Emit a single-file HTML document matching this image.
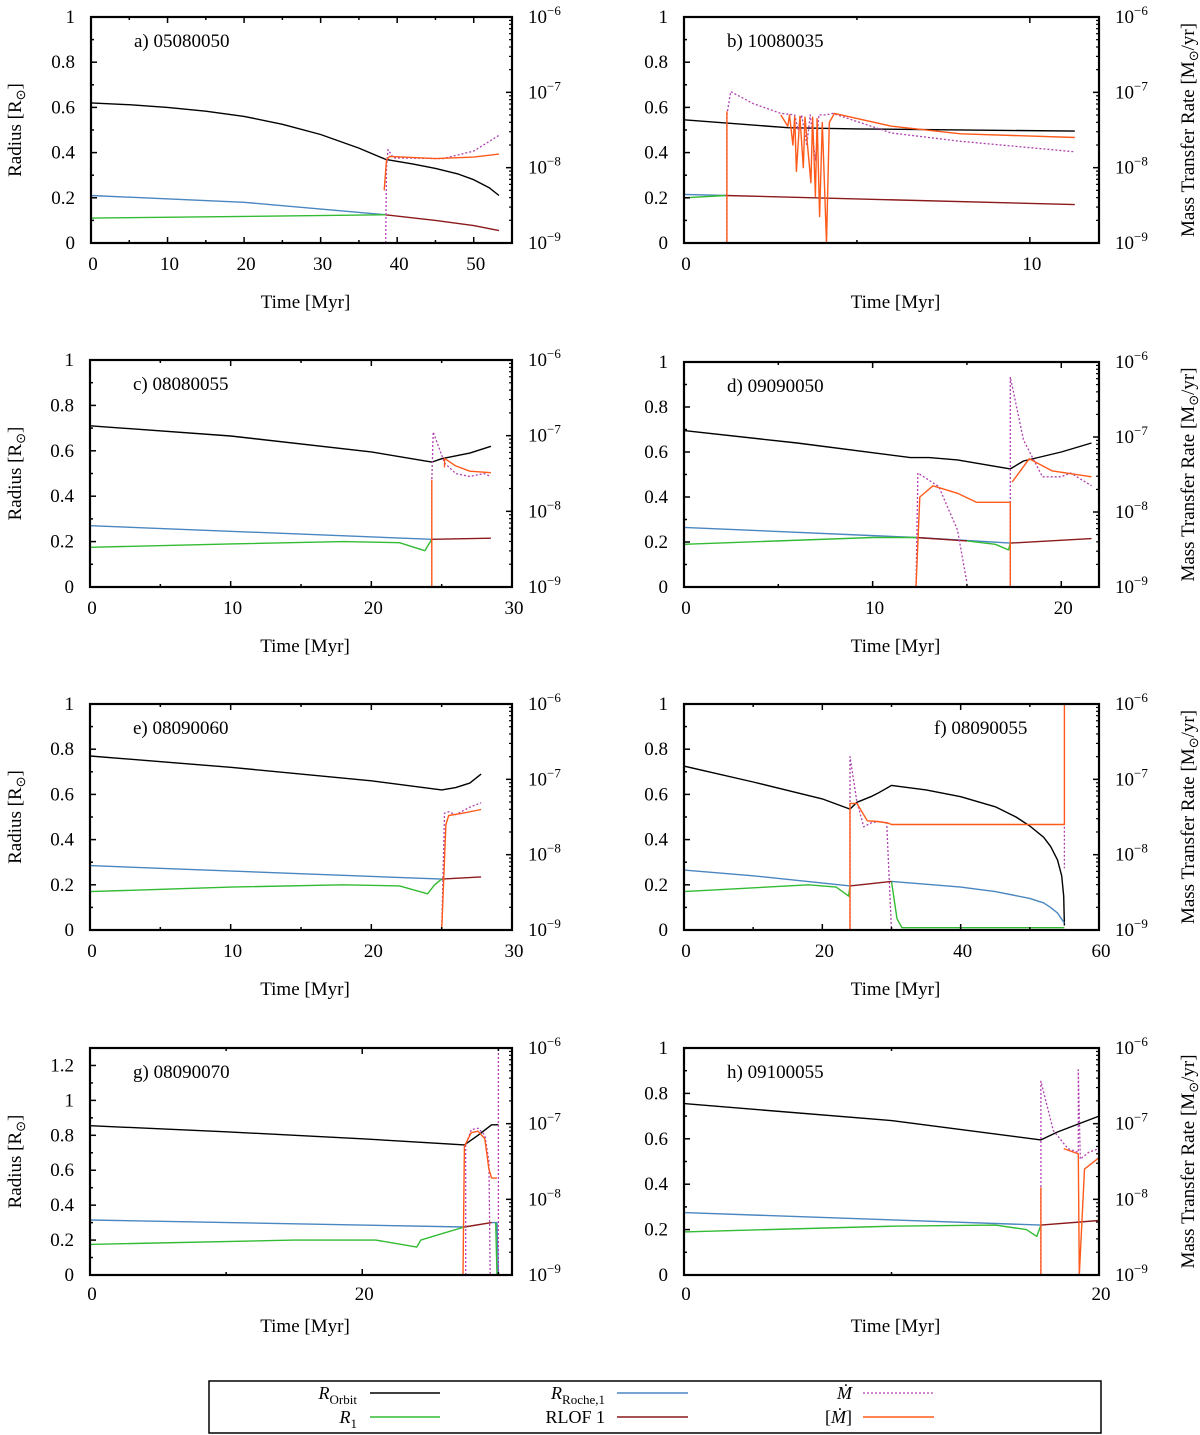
<!DOCTYPE html>
<html><head><meta charset="utf-8"><style>
html,body{margin:0;padding:0;background:#fff;}
svg{display:block;font-family:"Liberation Serif",serif;}
</style></head><body>
<svg id="chart" width="1200" height="1435" viewBox="0 0 1200 1435" xmlns="http://www.w3.org/2000/svg">
<g id="legend">
<rect x="209" y="1381" width="892" height="52" fill="#fff" stroke="#000" stroke-width="1.5"/>
<g><text x="357" y="1399" text-anchor="end" font-size="18"><tspan font-style="italic">R</tspan><tspan font-size="13" dy="5">Orbit</tspan></text><line x1="370" y1="1393" x2="440" y2="1393" stroke="#000" stroke-width="1.5"/></g>
<g><text x="357" y="1423" text-anchor="end" font-size="18"><tspan font-style="italic">R</tspan><tspan font-size="13" dy="5">1</tspan></text><line x1="370" y1="1417" x2="440" y2="1417" stroke="#33bb33" stroke-width="1.5"/></g>
<g><text x="605" y="1399" text-anchor="end" font-size="18"><tspan font-style="italic">R</tspan><tspan font-size="13" dy="5">Roche,1</tspan></text><line x1="617" y1="1393" x2="688" y2="1393" stroke="#4a86c0" stroke-width="1.5"/></g>
<g><text x="605" y="1423" text-anchor="end" font-size="18">RLOF 1</text><line x1="617" y1="1417" x2="688" y2="1417" stroke="#8b1a1a" stroke-width="1.5"/></g>
<g><text x="852" y="1399" text-anchor="end" font-size="18" font-style="italic">Ṁ</text><line x1="863" y1="1393" x2="934" y2="1393" stroke="#b040b0" stroke-width="1.3" stroke-dasharray="2,2"/></g>
<g><text x="852" y="1423" text-anchor="end" font-size="18">[<tspan font-style="italic">Ṁ</tspan>]</text><line x1="863" y1="1417" x2="934" y2="1417" stroke="#ff5a1a" stroke-width="1.5"/></g>
</g>
</svg>
<script>
// ---- data (time in Myr, radius in Rsun, mass transfer as log10 Msun/yr) ----
const aOrbit=[[0,.62],[5,.612],[10,.6],[15,.583],[20,.56],[25,.525],[30,.48],[35,.42],[38.5,.37],[42,.35],[45,.33],[48,.305],[50,.28],[52,.245],[53.3,.21]];
const aRoche=[[0,.21],[20,.18],[38.5,.125]];
const aR1=[[0,.11],[38.5,.125]];
const aRlof=[[38.5,.125],[45,.1],[50,.077],[53.3,.055]];
const aMdot=[[38.5,-9],[38.6,-8],[38.8,-7.76],[39.5,-7.87],[46,-7.88],[50,-7.78],[53.3,-7.57]];
const aMdotAvg=[[38.3,-8.3],[38.6,-7.9],[39,-7.85],[45,-7.88],[50,-7.86],[53.3,-7.82]];

const bOrbit=[[0,.545],[3,.51],[5,.505],[11.3,.495]];
const bRoche=[[0,.215],[1.2,.21]];
const bR1=[[0,.2],[1.2,.21]];
const bRlof=[[1.2,.21],[11.3,.17]];
const bMdot=[[1.24,-9],[1.24,-7.3],[1.35,-6.99],[2,-7.15],[2.8,-7.28],[3.2,-7.3],[3.3,-7.5],[3.4,-7.3],[3.55,-7.7],[3.65,-7.3],[3.8,-7.9],[3.9,-7.3],[4.1,-7.3],[4.3,-7.28],[6,-7.54],[8,-7.65],[11.3,-7.79]];
const bMdotAvg=[[1.24,-9],[1.24,-7.25],null,[2.8,-7.3],[3.0,-7.45],[3.05,-7.3],[3.15,-7.7],[3.2,-7.32],[3.25,-8.05],[3.35,-7.32],[3.45,-8.0],[3.5,-7.33],[3.67,-8.2],[3.72,-7.33],[3.8,-8.38],[3.85,-7.35],[3.92,-8.65],[4.0,-7.4],[4.12,-9],[4.2,-7.4],[4.35,-7.28],[6,-7.45],[8,-7.55],[11.3,-7.6]];

const cOrbit=[[0,.71],[10,.665],[20,.595],[24.3,.55],[25,.565],[27,.59],[28.5,.62]];
const cRoche=[[0,.27],[24.3,.21]];
const cR1=[[0,.175],[10,.19],[18,.2],[22,.195],[23.8,.16],[24.3,.21]];
const cRlof=[[24.3,.21],[28.5,.215]];
const cMdot=[[24.3,-9],[24.3,-7.6],[24.4,-6.95],[25.2,-7.36],[26,-7.5],[27,-7.54],[28,-7.5],[28.5,-7.54]];
const cMdotAvg=[[24.3,-9],[24.3,-7.58],null,[25.2,-7.42],[25.2,-7.3],[26,-7.4],[27,-7.47],[28.5,-7.49]];

const dOrbit=[[0,.695],[6,.64],[12,.575],[13,.575],[14.5,.565],[17.3,.525],[18,.56],[20,.6],[21.6,.64]];
const dRoche=[[0,.265],[12.3,.22],[17.3,.195]];
const dR1=[[0,.19],[10,.22],[12.3,.22],null,[15,.205],[16.5,.19],[17.2,.165],[17.3,.195]];
const dRlof=[[12.3,.22],[15,.205],null,[17.3,.195],[21.6,.215]];
const dMdot=[[12.3,-9],[12.4,-7.48],[13.5,-7.66],[14.5,-8.24],[15,-8.95],null,[17.3,-9],[17.3,-6.2],[18,-7.04],[19,-7.53],[20,-7.53],[20.5,-7.48],[21.6,-7.65]];
const dMdotAvg=[[12.3,-9],[12.5,-7.8],[13.2,-7.65],[14.5,-7.75],[15.5,-7.87],[17.3,-7.87],[17.3,-9],null,[17.4,-7.6],[18.3,-7.29],[19.5,-7.45],[21.6,-7.53]];

const eOrbit=[[0,.77],[10,.72],[20,.66],[25,.62],[26,.63],[27,.65],[27.8,.69]];
const eRoche=[[0,.285],[25,.225]];
const eR1=[[0,.17],[10,.19],[18,.2],[22,.195],[24,.16],[24.5,.2],[25,.225]];
const eRlof=[[25,.225],[27.8,.235]];
const eMdot=[[25,-9],[25.2,-7.45],[25.5,-7.43],[26,-7.47],[27,-7.37],[27.8,-7.31]];
const eMdotAvg=[[25,-9],[25.3,-7.6],[25.5,-7.48],[26.5,-7.45],[27.8,-7.4]];

const fOrbit=[[0,.725],[10,.655],[20,.58],[24,.535],[25,.565],[27,.59],[28,.605],[30,.64],[35,.62],[40,.59],[45,.545],[48,.5],[50,.46],[52,.41],[53,.37],[54,.31],[54.6,.24],[54.9,.15],[55,.02]];
const fRoche=[[0,.265],[10,.24],[24,.195],null,[30,.215],[40,.19],[45,.17],[50,.14],[52,.12],[53,.1],[54,.075],[55,.03]];
const fR1=[[0,.17],[18,.2],[22,.19],[23.8,.15],[24,.195],null,[30,.215],[30.8,.05],[31.5,.01],[55,.01]];
const fRlof=[[24,.195],[27,.205],[30,.215]];
const fMdot=[[24,-9],[24,-6.7],[25,-7.3],[26,-7.63],[27,-7.58],[28,-7.56],[29.3,-7.58],[30,-9],null,[55,-7.63],[55,-8.18]];
const fMdotAvg=[[24,-9],[24,-7.32],[25,-7.32],[26.5,-7.55],[28,-7.56],[29.5,-7.58],[30,-7.6],[55,-7.6],[55,-6]];

const gOrbit=[[0,.855],[10,.82],[20,.78],[27.5,.745],[28.5,.8],[29.5,.86],[30,.86]];
const gRoche=[[0,.315],[27.5,.275],null,[29.5,.3],[29.9,.3],[30,0]];
const gR1=[[0,.175],[15,.2],[21,.2],[24,.16],[24.3,.2],[26,.24],[27.5,.275],null,[29.8,.3],[29.9,0]];
const gRlof=[[27.5,.275],[29.5,.3]];
const gMdot=[[27.6,-9],[27.6,-7.28],[28,-7.08],[28.5,-7.06],[29,-7.15],[29.3,-7.5],[29.4,-9],null,[30,-9],[30,-6]];
const gMdotAvg=[[27.4,-9],[27.5,-7.3],[28,-7.12],[28.5,-7.1],[29,-7.2],[29.3,-7.6],[29.5,-7.72],[29.9,-7.72]];

const hOrbit=[[0,.755],[10,.68],[17.2,.595],[18,.63],[19,.665],[20,.7]];
const hRoche=[[0,.275],[17.2,.22]];
const hR1=[[0,.19],[10,.215],[15,.22],[16.5,.2],[17,.17],[17.2,.22]];
const hRlof=[[17.2,.22],[20,.24]];
const hMdot=[[17.2,-9],[17.2,-6.44],[17.8,-7.09],[18.5,-7.33],[19,-7.38],[19,-6.29],[19.1,-7.47],[19.5,-7.38],[20,-7.33]];
const hMdotAvg=[[17.2,-9],[17.2,-7.84],null,[18.3,-7.33],[19,-7.4],[19.05,-9],[19.3,-7.6],[20,-7.45]];

const panelLabels=["a) 05080050","b) 10080035","c) 08080055","d) 09090050","e) 08090060","f) 08090055","g) 08090070","h) 09100055"];
const xMaxes=[55,12,30,22,30,60,31,20];
const xTickStep=[10,10,10,10,10,20,20,20];
const xMinorStep=[5,5,5,5,5,10,10,10];
const yMaxes=[1,1,1,1,1,1,1.3,1];

const NS="http://www.w3.org/2000/svg";
const svg=document.getElementById('chart');
const geom=[[91,512,17,243],[684,1099,17,243],[90,512,360,587],[684,1099,362,587],[90,512,704,930],[684,1099,704,930],[90,512,1048,1275],[684,1099,1048,1275]];
const series=[
 [aOrbit,aRoche,aR1,aRlof,aMdot,aMdotAvg],[bOrbit,bRoche,bR1,bRlof,bMdot,bMdotAvg],
 [cOrbit,cRoche,cR1,cRlof,cMdot,cMdotAvg],[dOrbit,dRoche,dR1,dRlof,dMdot,dMdotAvg],
 [eOrbit,eRoche,eR1,eRlof,eMdot,eMdotAvg],[fOrbit,fRoche,fR1,fRlof,fMdot,fMdotAvg],
 [gOrbit,gRoche,gR1,gRlof,gMdot,gMdotAvg],[hOrbit,hRoche,hR1,hRlof,hMdot,hMdotAvg]];
const seriesNames=['r-orbit-line','r-roche-line','r1-line','rlof-line','mdot-line','mdot-avg-line'];
const seriesColors=['#000','#4a86c0','#33bb33','#8b1a1a','#b040b0','#ff5a1a'];
const panelTags='abcdefgh';

function mk(tag,attrs,parent){const e=document.createElementNS(NS,tag);for(const k in attrs)e.setAttribute(k,attrs[k]);parent.appendChild(e);return e;}
function fmt(v){return (Math.round(v*10)/10).toString();}

for(let p=0;p<8;p++){
 const [L,R,T,B]=geom[p];const xmax=xMaxes[p],ymax=yMaxes[p];
 const X=t=>L+t/xmax*(R-L);
 const Y=v=>B-v/ymax*(B-T);
 const YL=lg=>B-(lg+9)/3*(B-T);
 const g=mk('g',{},svg);
 
 
 const clipId='clip'+p;
 const cp=mk('clipPath',{id:clipId},g);mk('rect',{x:L,y:T,width:R-L,height:B-T},cp);
 const sg=mk('g',{'clip-path':'url(#'+clipId+')'},g);
 series[p].forEach((data,si)=>{
  const isLog=si>=4;let d='',pen=false;
  data.forEach(pt=>{ if(!pt){pen=false;return;}
   const x=X(pt[0]),y=isLog?YL(pt[1]):Y(pt[1]);
   d+=(pen?'L':'M')+x.toFixed(1)+' '+y.toFixed(1);pen=true;});
  const path=mk('path',{d:d,fill:'none',stroke:seriesColors[si],'stroke-width':si==4?1.3:1.4,'stroke-linejoin':'round'},sg);
  if(si==4)path.setAttribute('stroke-dasharray','2,2');
  
  
 });
 const fr=mk('rect',{x:L,y:T,width:R-L,height:B-T,fill:'none',stroke:'#000','stroke-width':2.2},g);
 
 
 for(let t=0;t<=xmax+1e-9;t+=xMinorStep[p]){
  const major=Math.abs(t/xTickStep[p]-Math.round(t/xTickStep[p]))<1e-6;const len=major?6:3;const x=X(t);
  mk('line',{x1:x,y1:B,x2:x,y2:B-len,stroke:'#000','stroke-width':1.5},g);
  mk('line',{x1:x,y1:T,x2:x,y2:T+len,stroke:'#000','stroke-width':1.5},g);
  if(major){const tx=mk('text',{x:x+2,y:B+(p>=6?25:27),'text-anchor':'middle','font-size':19},g);tx.textContent=t;
   
   }
 }
 for(let k=0;k<=Math.round(ymax*10);k++){const v=k/10;const major=k%2==0;const y=Y(v);
  mk('line',{x1:L,y1:y,x2:L+(major?6:3),y2:y,stroke:'#000','stroke-width':1.5},g);
  if(major){const tx=mk('text',{x:L-16,y:y+6,'text-anchor':'end','font-size':19},g);tx.textContent=fmt(v);
   
   }
 }
 for(let e=-9;e<=-6;e++){const y=YL(e);
  mk('line',{x1:R,y1:y,x2:R-6,y2:y,stroke:'#000','stroke-width':1.5},g);
  const tx=mk('text',{x:R+16,y:y+6,'font-size':19},g);tx.textContent='10';
  const sp=mk('tspan',{dy:-8,'font-size':13},tx);sp.textContent='−'+(-e);
  
  
  if(e<-6)for(let m=2;m<=9;m++){const yy=YL(e+Math.log10(m));mk('line',{x1:R,y1:yy,x2:R-3,y2:yy,stroke:'#000','stroke-width':1.2},g);}
 }
 const lab=mk('text',{x:(p==5?L+250:L+43),y:T+30,'font-size':19},g);lab.textContent=panelLabels[p];
 
 
 const xt=mk('text',{x:(L+R)/2+4,y:B+(p>=6?57:65),'text-anchor':'middle','font-size':19},g);xt.textContent='Time [Myr]';
 
 
 const cy=(T+B)/2;
 if(p%2==0){const yt=mk('text',{x:0,y:0,'text-anchor':'middle','font-size':19,transform:'translate(21,'+cy+') rotate(-90)'},g);
  yt.textContent='Radius [R';const s=mk('tspan',{'font-size':13,dy:4},yt);s.textContent='⊙';const s2=mk('tspan',{dy:-4},yt);s2.textContent=']';
  
  }
 else{const yt=mk('text',{x:0,y:0,'text-anchor':'middle','font-size':19,transform:'translate(1194,'+cy+') rotate(-90)'},g);
  yt.textContent='Mass Transfer Rate [M';const s=mk('tspan',{'font-size':13,dy:4},yt);s.textContent='⊙';const s2=mk('tspan',{dy:-4},yt);s2.textContent='/yr]';
  
  }
}
</script>
</body></html>
